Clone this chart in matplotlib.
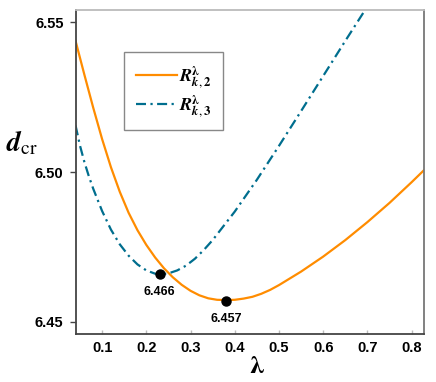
import matplotlib
matplotlib.use("Agg")
import matplotlib.pyplot as plt

# Data
lam_r2 = [0.04, 0.06, 0.08, 0.10, 0.12, 0.14, 0.16, 0.18, 0.20, 0.22, 0.24, 0.26,
          0.28, 0.30, 0.32, 0.34, 0.36, 0.38, 0.40, 0.42, 0.44, 0.46, 0.48, 0.50,
          0.55, 0.60, 0.65, 0.70, 0.75, 0.80, 0.83]
d_r2 = [6.5437, 6.5324, 6.5214, 6.5110, 6.5016, 6.4934, 6.4864, 6.4806, 6.4757,
        6.4715, 6.4679, 6.4649, 6.4624, 6.4604, 6.4589, 6.4579, 6.4574, 6.4573,
        6.4574, 6.4578, 6.4584, 6.4594, 6.4607, 6.4623, 6.4668, 6.4718, 6.4773,
        6.4833, 6.4897, 6.4966, 6.5009]

lam_r3 = [0.04, 0.05, 0.06, 0.07, 0.08, 0.10, 0.12, 0.14, 0.16, 0.18, 0.20, 0.22,
          0.23, 0.25, 0.27, 0.29, 0.31, 0.33, 0.35, 0.40, 0.45, 0.50, 0.55, 0.60,
          0.65, 0.70, 0.72]
d_r3 = [6.5155, 6.5088, 6.5033, 6.4986, 6.4944, 6.4870, 6.4808, 6.4759, 6.4721,
        6.4692, 6.4672, 6.4661, 6.4659, 6.4662, 6.4672, 6.4688, 6.4711, 6.4740,
        6.4773, 6.4868, 6.4974, 6.5087, 6.5203, 6.5320, 6.5437, 6.5552, 6.5600]

min_lam = [0.23, 0.38]
min_d = [6.466, 6.457]
min_labels = ["6.466", "6.457"]

series_labels = [r"$\boldsymbol{R}_{\boldsymbol{k},\mathbf{2}}^{\boldsymbol{\lambda}}$",
                 r"$\boldsymbol{R}_{\boldsymbol{k},\mathbf{3}}^{\boldsymbol{\lambda}}$"]
xticks = [0.1, 0.2, 0.3, 0.4, 0.5, 0.6, 0.7, 0.8]
yticks = [6.45, 6.50, 6.55]

plt.rcParams["mathtext.fontset"] = "stix"
plt.rcParams["font.family"] = ["Liberation Sans", "DejaVu Sans"]

fig = plt.figure(figsize=(4.36, 3.82), dpi=100)
ax = fig.add_axes([76 / 436, 48 / 382, 348 / 436, 324 / 382])

orange = "#ff8c00"
blue = "#006e8e"
ax.plot(lam_r2, d_r2, color=orange, lw=1.6, label=series_labels[0])
ax.plot(lam_r3, d_r3, color=blue, lw=1.6, linestyle=(0, (4.5, 2, 1, 2)),
        label=series_labels[1])

ax.plot(min_lam, min_d, "o", color="black", ms=6.5, zorder=5)
for x, y, t in zip(min_lam, min_d, min_labels):
    ax.annotate(t, (x, y), xytext=(0, -13), textcoords="offset points",
                ha="center", va="center", fontsize=9, fontweight="bold")

ax.set_xlim(0.041, 0.828)
ax.set_ylim(6.446, 6.554)
ax.set_xticks(xticks)
ax.set_xticklabels([f"{v:.1f}" for v in xticks])
ax.set_yticks(yticks)
ax.set_yticklabels([f"{v:.2f}" for v in yticks])

for lab in ax.get_xticklabels() + ax.get_yticklabels():
    lab.set_fontweight("bold")
    lab.set_fontsize(10.5)

ax.tick_params(axis="y", direction="out", length=4, width=1, color="#444444", pad=5)
ax.tick_params(axis="x", direction="in", length=3, width=1, color="#bbbbbb", pad=5)

ax.spines["left"].set_color("#444444")
ax.spines["bottom"].set_color("#444444")
ax.spines["top"].set_color("#bbbbbb")
ax.spines["right"].set_color("#777777")
for s in ax.spines.values():
    s.set_linewidth(1.3)

ax.text(-0.155, 0.59, r"$\boldsymbol{d}_{\mathrm{cr}}$", transform=ax.transAxes,
        ha="center", va="center", fontsize=20)
ax.text(0.52, -0.098, r"$\boldsymbol{\lambda}$", transform=ax.transAxes,
        ha="center", va="center", fontsize=19)

leg = ax.legend(loc="upper left", bbox_to_anchor=(0.138, 0.870), borderaxespad=0,
                fontsize=13, fancybox=False, framealpha=1, edgecolor="#888888",
                handlelength=2.3, borderpad=0.65, labelspacing=0.15, handletextpad=0.1)
leg.get_frame().set_linewidth(1.0)

fig.savefig("out.png", dpi=100)
